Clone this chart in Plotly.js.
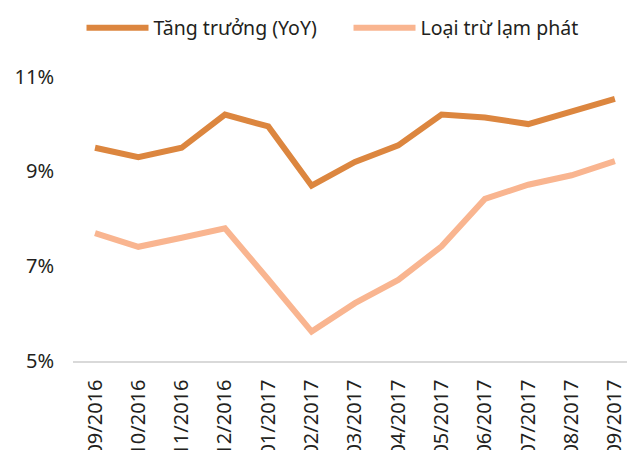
<!DOCTYPE html>
<html>
<head>
<meta charset="utf-8">
<script src="https://cdn.plot.ly/plotly-3.0.1.min.js"></script>
<style>html,body{margin:0;padding:0;background:#fff;}#chart{width:627px;height:450px;}</style>
</head>
<body>
<div id="chart"></div>
<script>
var months = ["09/2016","10/2016","11/2016","12/2016","01/2017","02/2017","03/2017","04/2017","05/2017","06/2017","07/2017","08/2017","09/2017"];
var growthYoY = [9.5, 9.3, 9.5, 10.2, 9.95, 8.7, 9.2, 9.55, 10.2, 10.14, 10.0, 10.27, 10.53];
var excludingInflation = [7.7, 7.41, 7.6, 7.8, 6.72, 5.62, 6.22, 6.71, 7.42, 8.42, 8.72, 8.92, 9.22];
var seriesNames = ["Tăng trưởng (YoY)", "Loại trừ lạm phát"];
var yTickVals = [5, 7, 9, 11];
var yTickText = ["5%", "7%", "9%", "11%"];

var FONT = "Noto Sans, Open Sans, sans-serif";
var traces = [
  {x: months, y: growthYoY, name: seriesNames[0], type: "scatter", mode: "lines",
   line: {color: "#DC863F", width: 6}},
  {x: months, y: excludingInflation, name: seriesNames[1], type: "scatter", mode: "lines",
   line: {color: "#F9B590", width: 6}}
];
var layout = {
  width: 627, height: 450,
  margin: {l: 73, r: 0, t: 53, b: 89, pad: 0},
  paper_bgcolor: "#fff", plot_bgcolor: "#fff",
  font: {family: FONT, color: "#231F20", size: 20},
  showlegend: true,
  legend: {orientation: "h", xref: "container", yref: "container", x: 0.13, y: 0.981,
           xanchor: "left", yanchor: "top", itemwidth: 62, entrywidth: 190,
           font: {family: FONT, size: 19.5, color: "#231F20"}, bgcolor: "rgba(0,0,0,0)"},
  xaxis: {type: "category", range: [-0.508, 12.28], showgrid: false, zeroline: false,
          showline: true, linecolor: "#D9D9D9", linewidth: 1.5, ticks: "",
          tickangle: -90, ticklabelstandoff: 9, automargin: false,
          tickfont: {family: FONT, size: 20, color: "#231F20"}},
  yaxis: {range: [5, 11.5], tickvals: yTickVals, ticktext: yTickText, showgrid: false,
          zeroline: false, showline: false, ticks: "", ticklabelstandoff: 18, automargin: false,
          tickfont: {family: FONT, size: 20, color: "#231F20"}}
};
Plotly.newPlot("chart", traces, layout, {displayModeBar: false, staticPlot: true});
</script>
</body>
</html>
